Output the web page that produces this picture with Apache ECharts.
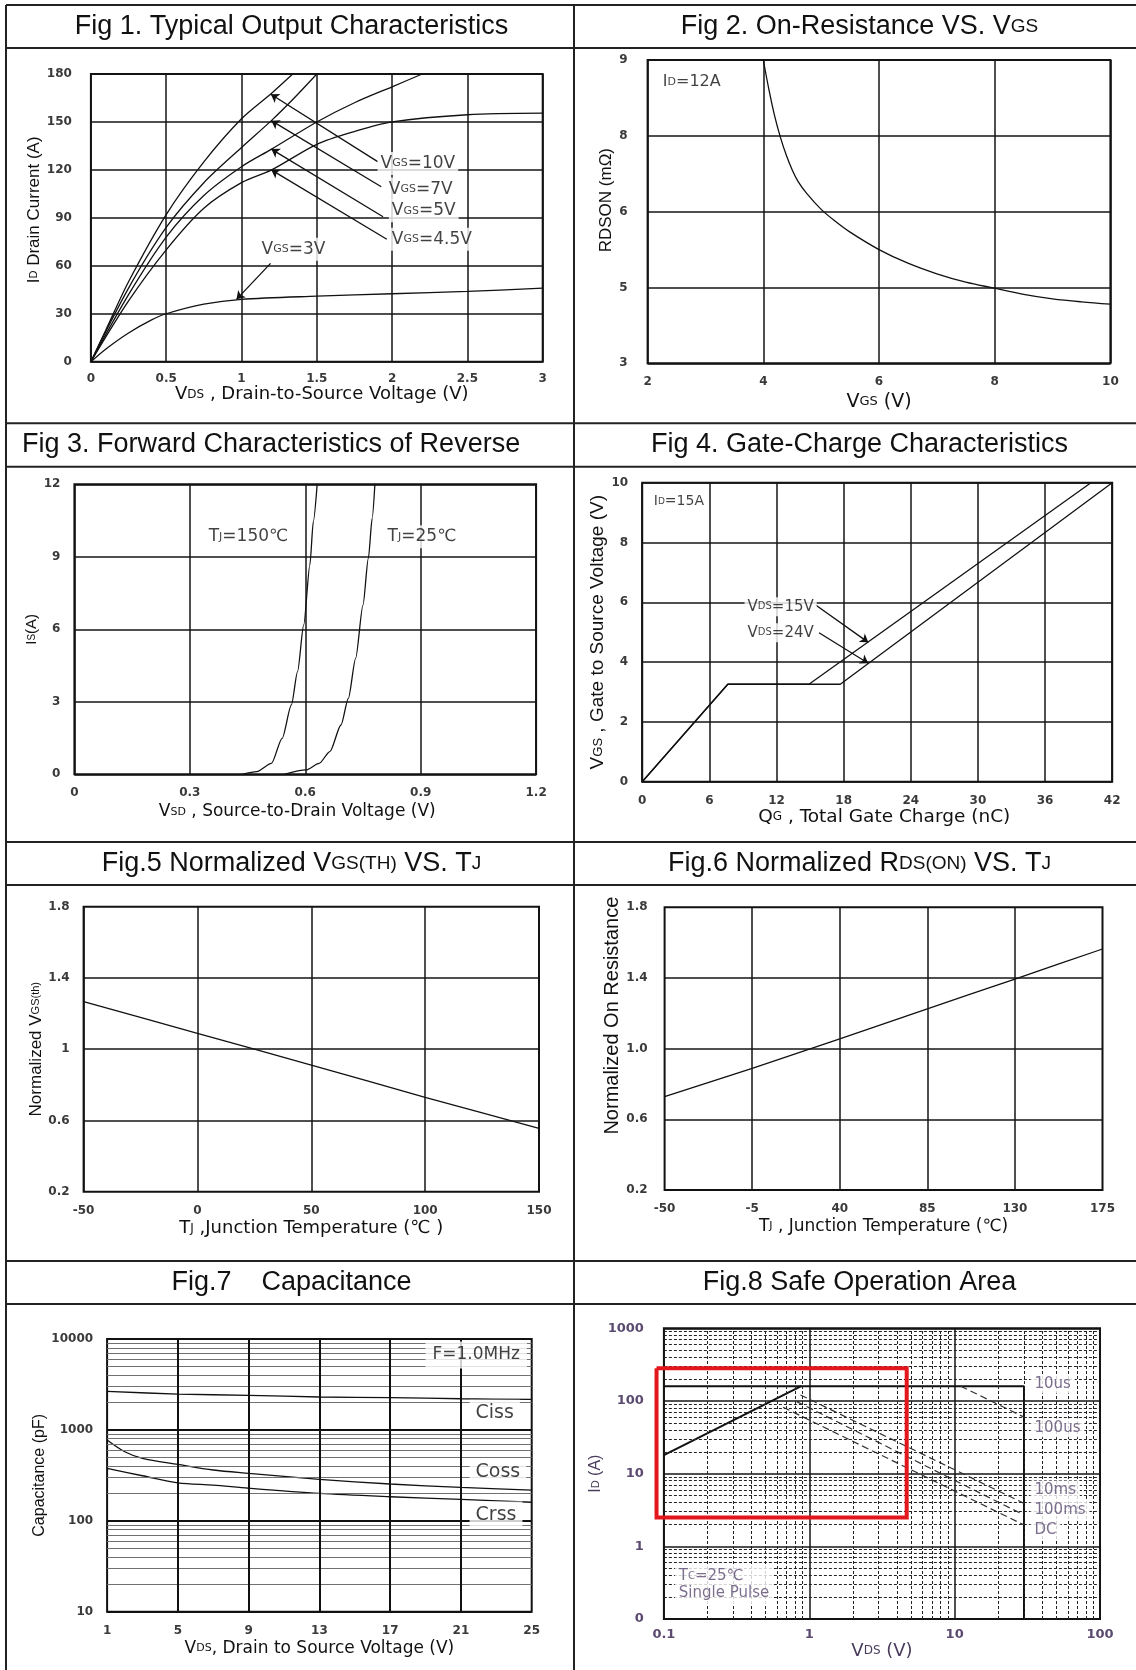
<!DOCTYPE html>
<html>
<head>
<meta charset="utf-8">
<script src="https://cdn.jsdelivr.net/npm/echarts@6.0.0/dist/echarts.min.js"></script>
<style>
html,body{margin:0;padding:0;background:#ffffff;}
#chart{width:1136px;height:1670px;}
</style>
</head>
<body>
<div id="chart"></div>
<script>
// ================= DATA =================
// Fig 1 - Typical Output Characteristics (VDS [V], ID [A])
const fig1_vgs10 = [[0,0],[0.1,20],[0.25,50],[0.5,92],[0.75,125],[1.0,152],[1.2,168],[1.34,180]];
const fig1_vgs7  = [[0,0],[0.25,46],[0.5,84],[0.75,112],[1.0,134],[1.2,151],[1.35,165],[1.5,180]];
const fig1_vgs5  = [[0,0],[0.25,42],[0.5,78],[0.75,104],[1.0,122],[1.2,133],[1.5,150],[1.75,162],[2.0,172],[2.2,180]];
const fig1_vgs45 = [[0,0],[0.25,38],[0.5,70],[0.75,96],[1.0,112],[1.2,120],[1.5,136],[1.75,144],[2.0,150],[2.5,154.5],[3.0,155.5]];
const fig1_vgs3  = [[0,0],[0.1,8],[0.25,18],[0.4,26],[0.5,30],[0.75,36],[1.0,39],[1.5,41],[2.0,42.5],[2.5,44],[3.0,46]];
const fig1Notes  = [[1.90,124,'V','GS','=10V'],[1.955,108,'V','GS','=7V'],[1.975,94.5,'V','GS','=5V'],[1.975,76.6,'V','GS','=4.5V'],[1.11,70.3,'V','GS','=3V']];
const fig1Arrows = [[[1.904,125.2],[1.195,167.3]],[[1.928,109.5],[1.198,150.8]],[[1.94,90.7],[1.198,133]],[[1.965,76.6],[1.198,120]],[[1.193,61.5],[0.967,39]]];

// Fig 2 - On-Resistance vs VGS (VGS [V], RDSON [mOhm]); y axis tick labels are unevenly valued
const fig2YTicks = [3,5,6,8,9];
const fig2_rds = [[4.0,9.0],[4.1,8.6],[4.2,8.25],[4.3,7.94],[4.4,7.48],[4.5,7.1],[4.6,6.8],[4.75,6.48],[5.0,6.06],[5.25,5.87],[5.5,5.73],[6.0,5.5],[6.5,5.32],[7.0,5.18],[7.5,5.07],[8.0,4.98],[8.5,4.82],[9.0,4.70],[9.5,4.62],[10,4.56]];
const fig2Notes = [[2.22,8.71,'I','D','=12A']];

// Fig 3 - Forward characteristics of reverse diode (VSD [V], IS [A])
const fig3_tj150 = [[0.436,0],[0.474,0.11],[0.512,0.45],[0.54,1.49],[0.564,2.87],[0.58,4.25],[0.596,6.18],[0.612,8.66],[0.621,10.46],[0.631,12]];
const fig3_tj25  = [[0.545,0],[0.602,0.18],[0.636,0.45],[0.664,0.94],[0.693,2.04],[0.712,3.14],[0.731,4.8],[0.75,7.0],[0.764,8.94],[0.774,10.6],[0.781,12]];
const fig3Notes = [[0.34,9.83,'T','J','=150\u2103'],[0.805,9.83,'T','J','=25\u2103']];

// Fig 4 - Gate charge (QG [nC], VGS [V])
const fig4_vds15 = [[0,0],[7.65,3.26],[14.9,3.26],[40.1,10]];
const fig4_vds24 = [[0,0],[7.65,3.26],[17.7,3.26],[42,10]];
const fig4Cond  = [[0.9,9.36,'I','D','=15A']];
const fig4Notes = [[9.1,5.85,'V','DS','=15V'],[9.1,4.98,'V','DS','=24V']];
const fig4Arrows = [[[15.5,5.91],[20.2,4.66]],[[15.8,4.98],[20.2,3.96]]];

// Fig 5 - Normalized VGS(th) vs TJ
const fig5YTicks = [0.2,0.6,1,1.4,1.8];
const fig5_vth = [[-50,1.267],[0,1.089],[50,0.911],[100,0.73],[150,0.556]];

// Fig 6 - Normalized RDS(on) vs TJ
const fig6XTicks = [-50,-5,40,85,130,175];
const fig6YTicks = [0.2,0.6,1.0,1.4,1.8];
const fig6_rds = [[-50,0.728],[-5,0.889],[40,1.055],[85,1.225],[130,1.394],[175,1.564]];

// Fig 7 - Capacitance (VDS [V], C [pF])
const fig7XTicks = [1,5,9,13,17,21,25];
const fig7_ciss = [[1,2650],[5,2480],[9,2400],[13,2300],[17,2270],[21,2200],[25,2170]];
const fig7_coss = [[1,775],[2,575],[3,487],[5,418],[7,362],[9,333],[13,286],[17,254],[21,233],[25,218]];
const fig7_crss = [[1,378],[3,313],[5,262],[7,247],[9,228],[13,200],[17,184],[21,172],[25,160]];
const fig7Cond  = [[18.97,6668,'F=1.0MHz']];
const fig7Notes = [[21.46,1523,'Ciss'],[21.46,347,'Coss'],[21.46,116,'Crss']];

// Fig 8 - Safe operating area (VDS [V], ID [A]), log-log
const fig8YLabels = ['0','1','10','100','1000'];
const fig8_rdsLimit = [[0.1,18],[0.88,160]];
const fig8_limit = [[0.1,160],[30,160],[30,0.1]];
const fig8_100us = [[11,160],[30,60]];
const fig8_10ms  = [[0.87,121],[30,3.9]];
const fig8_100ms = [[0.82,98],[30,2.7]];
const fig8_dc    = [[0.66,82],[30,1.97]];
const fig8_redBox = [[0.089,282],[4.68,282],[4.68,2.5],[0.089,2.5],[0.089,282]];
const fig8Notes = [[33,171,'10us'],[33,42.9,'100us'],[33,5.96,'10ms'],[33,3.16,'100ms'],[33,1.68,'DC']];
const fig8Cond = [[0.118,0.294,'T','C','=25\u2103','Single Pulse']];

// ================= HELPERS =================
function rdsToPos(v){
  for (let i = 0; i < fig2YTicks.length - 1; i++){
    const a = fig2YTicks[i], b = fig2YTicks[i+1];
    if (v <= b || i === fig2YTicks.length - 2) return i + (v - a) / (b - a);
  }
}
function nm(a,b,c){ let s=''; if(a) s+='{m|'+a+'}'; if(b) s+='{s|'+b+'}'; if(c) s+='{m|'+c+'}'; return s; }
function richSet(size, color, family){
  const f = family || 'DejaVu Sans', col = color || '#111';
  return { m:{fontSize:size, fontFamily:f, color:col}, s:{fontSize:Math.round(size*0.66), fontFamily:f, color:col} };
}
const TL = (extra) => Object.assign({fontFamily:'DejaVu Sans', fontSize:12, fontWeight:'bold', color:'#3a3a3a'}, extra);
const SPLIT = {show:true, lineStyle:{color:'#151515', width:1.5}};
function X(gi,o){ return Object.assign({gridIndex:gi, type:'value', position:'bottom', axisLine:{show:false,onZero:false}, axisTick:{show:false}, splitLine:SPLIT, nameLocation:'middle', silent:true}, o); }
function Y(gi,o){ return Object.assign({gridIndex:gi, type:'value', position:'left', axisLine:{show:false,onZero:false}, axisTick:{show:false}, splitLine:SPLIT, nameLocation:'middle', silent:true}, o); }
function curve(gi, data, extra){
  return Object.assign({type:'line', xAxisIndex:gi, yAxisIndex:gi, data:data, symbol:'none', showSymbol:false,
    lineStyle:{color:'#111', width:1.3}, itemStyle:{color:'#111'}, z:3, silent:true, animation:false}, extra||{});
}
function gridLines(gi, axis, values, style, z){
  return {type:'line', xAxisIndex:gi, yAxisIndex:gi, data:[], z:z||1, silent:true, animation:false,
    markLine:{silent:true, animation:false, symbol:['none','none'], label:{show:false}, lineStyle:style,
      emphasis:{disabled:true}, data: values.map(v => ({[axis]: v}))}};
}
function arrows(gi, arr){
  return {type:'line', xAxisIndex:gi, yAxisIndex:gi, data:[], z:6, silent:true, animation:false,
    markLine:{silent:true, animation:false, symbol:['none','arrow'], symbolSize:8, label:{show:false},
      lineStyle:{color:'#111', width:1.3, type:'solid'}, emphasis:{disabled:true},
      data: arr.map(a => [{coord:a[0]},{coord:a[1]}])}};
}
function notes(gi, arr, size, color, pad, yMap){
  return {type:'scatter', xAxisIndex:gi, yAxisIndex:gi, symbolSize:1, itemStyle:{color:'rgba(0,0,0,0)'}, z:8, silent:true, animation:false,
    data: arr.map(n => ({value:[n[0], yMap ? yMap(n[1]) : n[1]],
      label:{formatter: n.length > 5 ? nm(n[2],n[3],n[4]) + '\n{m|' + n[5] + '}' : (n.length > 3 ? nm(n[2],n[3],n[4]) : '{m|' + n[2] + '}')}})),
    label:{show:true, position:'right', distance:0, backgroundColor:'#ffffff', padding:pad||[1,3], lineHeight:size+2, rich:richSet(size, color)}};
}

// minor grid values for log axes (multiples within each decade)
function minors(decades){ const out=[]; decades.forEach(d => { for (let k=2;k<=9;k++) out.push(+(d*k).toPrecision(6)); }); return out; }
const fig7Minor = minors([10,100,1000]);
const fig8MinorX = minors([0.1,1,10]);
const fig8MinorY = minors([0.1,1,10,100]);

// ================= LAYOUT =================
const grids = [
  {left:90.9, top:74, width:451.8, height:287.7},
  {left:647.6, top:60, width:462.8, height:303.3},
  {left:74.4, top:484.3, width:461.7, height:290},
  {left:642.2, top:482.7, width:470, height:299},
  {left:83.6, top:906.7, width:455.4, height:285},
  {left:664.6, top:907.3, width:437.9, height:282.7},
  {left:107.1, top:1339, width:424.6, height:272.7},
  {left:663.9, top:1328.3, width:436.1, height:290.7}
].map(g => Object.assign({show:true, borderColor:'#111', borderWidth:2, backgroundColor:'rgba(0,0,0,0)', outerBoundsMode:'none', containLabel:false}, g));

const PURPLE = '#5b4a70';

const xAxes = [
  X(0,{min:0,max:3,interval:0.5, axisLabel:TL({margin:11}), name:nm('V','DS',' , Drain-to-Source Voltage (V)'), nameGap:22, nameTextStyle:{rich:richSet(18), padding:[0,0,0,10]}}),
  X(1,{min:2,max:10,interval:2, axisLabel:TL({margin:13}), name:nm('V','GS',' (V)'), nameGap:29, nameTextStyle:{rich:richSet(19)}}),
  X(2,{min:0,max:1.2,interval:0.3, axisLabel:TL({margin:13}), name:nm('V','SD',' , Source-to-Drain Voltage (V)'), nameGap:29, nameTextStyle:{rich:richSet(17), padding:[0,16,0,0]}}),
  X(3,{min:0,max:42,interval:6, axisLabel:TL({margin:13}), name:nm('Q','G',' , Total Gate Charge (nC)'), nameGap:20, nameTextStyle:{rich:richSet(18.5), padding:[0,0,0,14]}}),
  X(4,{min:-50,max:150,interval:50, axisLabel:TL({margin:13}), name:nm('T','J',' ,Junction Temperature (\u2103 )'), nameGap:28, nameTextStyle:{rich:richSet(18)}}),
  X(5,{min:-50,max:175, splitLine:{show:false}, axisTick:{show:false, customValues:fig6XTicks}, axisLabel:TL({margin:13, customValues:fig6XTicks}), name:nm('T','J',' , Junction Temperature (\u2103)'), nameGap:28, nameTextStyle:{rich:richSet(17)}}),
  X(6,{min:1,max:25, splitLine:{show:false}, axisTick:{show:false, customValues:fig7XTicks}, axisLabel:TL({margin:13, customValues:fig7XTicks}), name:nm('V','DS',', Drain to Source Voltage (V)'), nameGap:28, nameTextStyle:{rich:richSet(17)}}),
  X(7,{type:'log', logBase:10, min:0.1, max:100, axisLabel:TL({margin:9, color:PURPLE, fontSize:13}), name:nm('V','DS',' (V)'), nameGap:23, nameTextStyle:{rich:richSet(18,'#4a3c5c')}})
];
const yAxes = [
  Y(0,{min:0,max:180,interval:30, axisLabel:TL({margin:19}), name:nm('I','D',' Drain Current (A)'), nameGap:44, nameTextStyle:{rich:richSet(17,null,'Liberation Sans'), padding:[0,0,0,16]}}),
  Y(1,{min:0,max:4,interval:1, axisLabel:TL({margin:20, formatter:v => String(fig2YTicks[Math.round(v)])}), name:'RDSON (m\u03A9)', nameGap:33, nameTextStyle:{fontSize:17, fontFamily:'Liberation Sans', color:'#111', padding:[0,0,0,23]}}),
  Y(2,{min:0,max:12,interval:3, axisLabel:TL({margin:14}), name:nm('I','S','(A)'), nameGap:31, nameTextStyle:{rich:richSet(15,null,'Liberation Sans')}}),
  Y(3,{min:0,max:10,interval:2, axisLabel:TL({margin:14}), name:nm('V','GS',' , Gate to Source Voltage (V)'), nameGap:33, nameTextStyle:{rich:richSet(19,null,'Liberation Sans')}}),
  Y(4,{min:0.2,max:1.8, splitLine:{show:false}, axisTick:{show:false, customValues:fig5YTicks}, axisLabel:TL({margin:14, customValues:fig5YTicks}), name:nm('Normalized V','GS(th)',''), nameGap:34, nameTextStyle:{rich:richSet(17,null,'Liberation Sans')}}),
  Y(5,{min:0.2,max:1.8, splitLine:{show:false}, axisTick:{show:false, customValues:fig6YTicks}, axisLabel:TL({margin:17, customValues:fig6YTicks, formatter:v => Number(v).toFixed(1)}), name:'Normalized On Resistance', nameGap:37, nameTextStyle:{fontSize:20, fontFamily:'Liberation Sans', color:'#111', padding:[0,0,0,66]}}),
  Y(6,{type:'log', logBase:10, min:10, max:10000, splitLine:{show:true, lineStyle:{color:'#111', width:1.8}}, axisLabel:TL({margin:14, formatter:v => String(Math.round(v))}), name:'Capacitance (pF)', nameGap:54, nameTextStyle:{fontSize:16, fontFamily:'Liberation Sans', color:'#111'}}),
  Y(7,{type:'log', logBase:10, min:0.1, max:1000, axisLabel:TL({margin:20, color:PURPLE, fontSize:13, formatter:v => fig8YLabels[Math.round(Math.log10(v)) + 1]}), name:nm('I','D',' (A)'), nameGap:45, nameTextStyle:{rich:richSet(16,'#4a3c5c','Liberation Sans')}})
];

const SOLID = {color:'#151515', width:1.5, type:'solid'};
const DASH_GRID = {color:'#222', width:1, type:[3,2]};
const DASH_CURVE = {color:'#333', width:1.2, type:[7,4]};

const series = [
  // Fig 1
  curve(0, fig1_vgs10, {smooth:0.3}), curve(0, fig1_vgs7, {smooth:0.3}), curve(0, fig1_vgs5, {smooth:0.3}),
  curve(0, fig1_vgs45, {smooth:0.3}), curve(0, fig1_vgs3, {smooth:0.3}),
  arrows(0, fig1Arrows), notes(0, fig1Notes, 17, '#111', [2,3]),
  // Fig 2
  curve(1, fig2_rds.map(p => [p[0], rdsToPos(p[1])]), {smooth:0.35}),
  notes(1, fig2Notes, 16, '#111', [1,2], rdsToPos),
  // Fig 3
  curve(2, fig3_tj150, {smooth:0.25, smoothMonotone:'x'}), curve(2, fig3_tj25, {smooth:0.25, smoothMonotone:'x'}),
  notes(2, fig3Notes, 17, '#111', [2,3]),
  // Fig 4
  curve(3, fig4_vds15), curve(3, fig4_vds24),
  arrows(3, fig4Arrows), notes(3, fig4Notes, 15, '#111', [1,3]),
  notes(3, fig4Cond, 14, '#111', [1,1]),
  // Fig 5
  gridLines(4, 'yAxis', [0.6,1,1.4], SOLID),
  curve(4, fig5_vth, {smooth:0.2}),
  // Fig 6
  gridLines(5, 'xAxis', [-5,40,85,130], SOLID), gridLines(5, 'yAxis', [0.6,1.0,1.4], SOLID),
  curve(5, fig6_rds, {smooth:0.2}),
  // Fig 7
  gridLines(6, 'yAxis', fig7Minor, {color:'#707070', width:1, type:'solid'}),
  gridLines(6, 'xAxis', [5,9,13,17,21], {color:'#111', width:2, type:'solid'}, 2),
  curve(6, fig7_ciss, {smooth:0.3}), curve(6, fig7_coss, {smooth:0.3}), curve(6, fig7_crss, {smooth:0.3}),
  notes(6, fig7Cond, 17, '#111', [4,7]),
  notes(6, fig7Notes, 19, '#111', [3,6]),
  // Fig 8
  gridLines(7, 'xAxis', fig8MinorX, DASH_GRID), gridLines(7, 'yAxis', fig8MinorY, DASH_GRID),
  curve(7, fig8_rdsLimit, {lineStyle:{color:'#111', width:2}}),
  curve(7, fig8_limit, {lineStyle:{color:'#111', width:2}}),
  curve(7, fig8_100us, {lineStyle:DASH_CURVE}), curve(7, fig8_10ms, {lineStyle:DASH_CURVE}),
  curve(7, fig8_100ms, {lineStyle:DASH_CURVE}), curve(7, fig8_dc, {lineStyle:DASH_CURVE}),
  notes(7, fig8Notes, 15, PURPLE, [1,4]),
  notes(7, fig8Cond, 15, PURPLE, [3,4])
];

// ================= TABLE FRAME & PANEL TITLES =================
const hLines = [5, 48, 423.3, 466.7, 842, 885, 1261, 1304];
const graphics = [];
hLines.forEach(y => graphics.push({type:'line', silent:true, shape:{x1:6, y1:y, x2:1136, y2:y}, style:{stroke:'#222', lineWidth:2}}));
[6, 574].forEach(x => graphics.push({type:'line', silent:true, shape:{x1:x, y1:5, x2:x, y2:1670}, style:{stroke:'#222', lineWidth:2}}));

const TR = {a:{fontSize:27, fontFamily:'Liberation Sans', fill:'#111'}, b:{fontSize:19, fontFamily:'Liberation Sans', fill:'#111'}};
const panelTitles = [
  [291.5, 26.5, '{a|Fig 1. Typical Output Characteristics}', 'center'],
  [859.5, 26.5, '{a|Fig 2. On-Resistance VS. V}{b|GS}', 'center'],
  [22, 445, '{a|Fig 3. Forward Characteristics of Reverse}', 'left'],
  [859.5, 445, '{a|Fig 4. Gate-Charge Characteristics}', 'center'],
  [291.5, 863.5, '{a|Fig.5 Normalized V}{b|GS(TH)}{a| VS. T}{b|J}', 'center'],
  [859.5, 863.5, '{a|Fig.6 Normalized R}{b|DS(ON)}{a| VS. T}{b|J}', 'center'],
  [291.5, 1282.5, '{a|Fig.7    Capacitance}', 'center'],
  [859.5, 1282.5, '{a|Fig.8 Safe Operation Area}', 'center']
];
panelTitles.forEach(t => graphics.push({type:'text', silent:true, x:t[0], y:t[1],
  style:{text:t[2], rich:TR, align:t[3], verticalAlign:'middle', textAlign:t[3], textVerticalAlign:'middle'}}));

const chart = echarts.init(document.getElementById('chart'), null, {renderer:'canvas'});
chart.setOption({
  backgroundColor:'#ffffff',
  animation:false,
  textStyle:{fontFamily:'DejaVu Sans'},
  grid: grids,
  xAxis: xAxes,
  yAxis: yAxes,
  series: series,
  graphic: graphics
});

// Red highlight box in Fig 8: corners converted from data through the Fig 8 axes
// (it extends slightly past the plot frame, so it is drawn unclipped).
const boxPts = fig8_redBox.map(p => chart.convertToPixel({gridIndex:7}, p));
chart.setOption({
  graphic: graphics.concat([{type:'polyline', silent:true, z:100, shape:{points: boxPts}, style:{stroke:'#e3161c', lineWidth:4, fill:null, lineJoin:'miter'}}])
});
</script>
</body>
</html>
